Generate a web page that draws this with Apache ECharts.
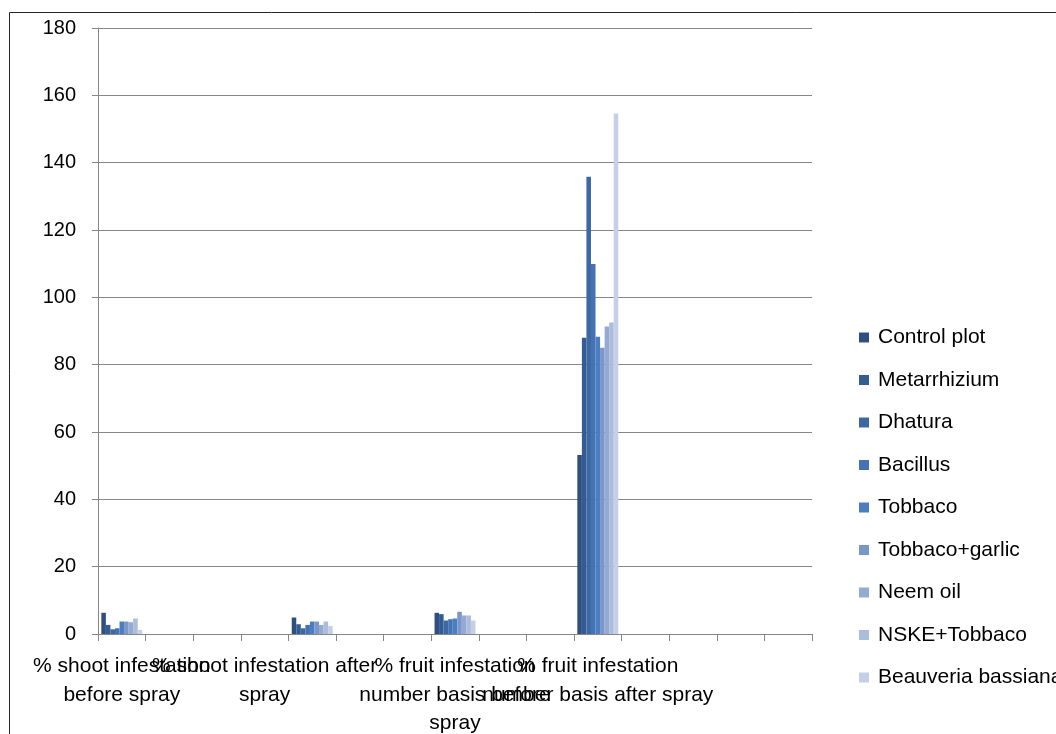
<!DOCTYPE html>
<html>
<head>
<meta charset="utf-8">
<script src="https://cdn.jsdelivr.net/npm/echarts@6/dist/echarts.min.js"></script>
<style>
html,body{margin:0;padding:0;background:#fff;}
#c{width:1056px;height:734px;}
</style>
</head>
<body>
<div id="c"></div>
<script>
// 15 category slots (Excel chart); labels appear on slots 0, 3, 7, 10
var categories = [
  "% shoot infestation\nbefore spray", "", "",
  "% shoot infestation after\nspray", "", "", "",
  "% fruit infestation\nnumber basis before\nspray", "", "",
  "% fruit infestation\nnumber basis after spray", "", "", "", ""
];
var yTicks = [0, 20, 40, 60, 80, 100, 120, 140, 160, 180];
var seriesNames = ["Control plot", "Metarrhizium", "Dhatura", "Bacillus", "Tobbaco",
  "Tobbaco+garlic", "Neem oil", "NSKE+Tobbaco", "Beauveria bassiana"];
var N = null;
var controlPlot   = [6.3, N, N, N, 4.9, N, N, 6.3, N, N, 53.2, N, N, N, N];
var metarrhizium  = [2.7, N, N, N, 2.9, N, N, 5.9, N, N, 88.0, N, N, N, N];
var dhatura       = [1.4, N, N, N, 1.7, N, N, 4.0, N, N, 135.8, N, N, N, N];
var bacillus      = [1.7, N, N, N, 2.7, N, N, 4.4, N, N, 109.9, N, N, N, N];
var tobbaco       = [3.7, N, N, N, 3.7, N, N, 4.6, N, N, 88.3, N, N, N, N];
var tobbacoGarlic = [3.7, N, N, N, 3.7, N, N, 6.6, N, N, 85.0, N, N, N, N];
var neemOil       = [3.5, N, N, N, 2.7, N, N, 5.5, N, N, 91.3, N, N, N, N];
var nskeTobbaco   = [4.6, N, N, N, 3.7, N, N, 5.5, N, N, 92.5, N, N, N, N];
var beauveria     = [1.2, N, N, N, 2.4, N, N, 4.0, N, N, 154.6, N, N, N, N];
var seriesData = [controlPlot, metarrhizium, dhatura, bacillus, tobbaco,
  tobbacoGarlic, neemOil, nskeTobbaco, beauveria];
var colors = ["#2E5080", "#355C92", "#3C68A3", "#4373B3", "#4A7EC0",
  "#7B97C9", "#94AAD3", "#ABBDDD", "#C5D0E6"];

var FONT = "Liberation Sans";
var chart = echarts.init(document.getElementById('c'), null, {renderer: 'canvas'});
var series = seriesNames.map(function (name, i) {
  return {
    name: name,
    type: 'bar',
    data: seriesData[i],
    barGap: '0%',
    barCategoryGap: '14%',
    itemStyle: {color: colors[i]},
    emphasis: {disabled: true},
    animation: false
  };
});
chart.setOption({
  animation: false,
  color: colors,
  textStyle: {fontFamily: FONT, color: '#000'},
  graphic: [{
    type: 'rect', silent: true,
    shape: {x: 9.5, y: 12.5, width: 1100, height: 800},
    style: {fill: 'none', stroke: '#262626', lineWidth: 1}
  }],
  grid: {left: 98, top: 28, width: 714, height: 606, containLabel: false, outerBoundsMode: 'none'},
  legend: {
    orient: 'vertical', left: 854, top: 322,
    itemWidth: 10, itemHeight: 10, itemGap: 21.5,
    icon: 'rect',
    textStyle: {fontFamily: FONT, fontSize: 21, color: '#000', padding: [0, 0, 0, 4]},
    data: seriesNames
  },
  xAxis: {
    type: 'category',
    data: categories,
    axisLine: {lineStyle: {color: '#868686', width: 1}},
    axisTick: {show: true, length: 7, interval: 0, lineStyle: {color: '#868686'}},
    axisLabel: {interval: 0, fontFamily: FONT, fontSize: 21, color: '#000',
      lineHeight: 28.5, margin: 18, hideOverlap: false},
    splitLine: {show: false}
  },
  yAxis: {
    type: 'value', min: 0, max: 180, interval: 20,
    axisLine: {show: true, lineStyle: {color: '#868686', width: 1}},
    axisTick: {show: true, length: 6, lineStyle: {color: '#868686'}},
    axisLabel: {fontFamily: FONT, fontSize: 20, color: '#000', margin: 22,
      formatter: function (v) { return yTicks.indexOf(v) >= 0 ? String(v) : ''; }},
    splitLine: {show: true, lineStyle: {color: '#868686', width: 1}}
  },
  series: series
});
</script>
</body>
</html>
